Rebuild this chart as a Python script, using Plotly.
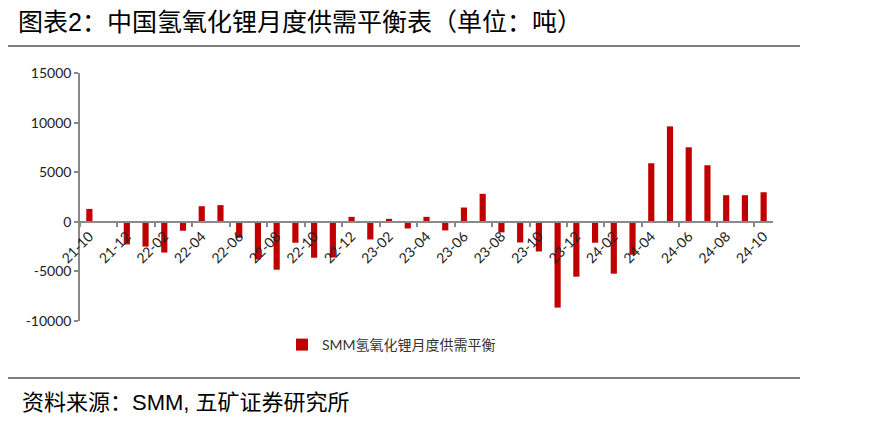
import plotly.graph_objects as go

months = [
    "21-10", "21-11", "21-12", "22-01", "22-02", "22-03", "22-04", "22-05", "22-06",
    "22-07", "22-08", "22-09", "22-10", "22-11", "22-12", "23-01", "23-02", "23-03",
    "23-04", "23-05", "23-06", "23-07", "23-08", "23-09", "23-10", "23-11", "23-12",
    "24-01", "24-02", "24-03", "24-04", "24-05", "24-06", "24-07", "24-08", "24-09",
    "24-10",
]
balance = [
    1300, 0, -2280, -2500, -3100, -900, 1570, 1680, -1610,
    -3790, -4830, -2110, -3620, -3600, 500, -1780, 300, -670,
    500, -870, 1440, 2820, -1070, -2080, -2990, -8650, -5530,
    -2110, -5230, -3320, 5900, 9620, 7510, 5700, 2680, 2680,
    2980,
]
y_ticks = [-10000, -5000, 0, 5000, 10000, 15000]

idx = list(range(len(months)))
num_font = "Lato, Noto Sans CJK SC, sans-serif"
cjk_font = "Liberation Sans, Noto Sans CJK SC, sans-serif"
grey = "#898989"

# page body has an 8px margin, so the figure is drawn 8px in
OFF = 8
FW, FH = 884 - OFF, 428 - OFF

fig = go.Figure()
fig.add_trace(go.Bar(
    x=idx, y=balance, name="SMM氢氧化锂月度供需平衡",
    marker=dict(color="#C00000", line=dict(width=0)), width=0.33,
))

# plot area in screen pixels: x 80..773, y 73..321
L, R, T, B = 80 - OFF, 773 - OFF, 73 - OFF, 321 - OFF
W, H = R - L, B - T


def px(x):
    return (x - OFF - L) / W


def py(y):
    return (B - (y - OFF)) / H


fig.update_layout(
    width=FW, height=FH,
    margin=dict(l=L, r=FW - R, t=T, b=FH - B, autoexpand=False),
    paper_bgcolor="white", plot_bgcolor="white",
    showlegend=True,
    legend=dict(
        x=px(282), y=py(345), xanchor="left", yanchor="middle",
        orientation="h", font=dict(family=num_font, size=14, color="#333333"),
    ),
    xaxis=dict(
        range=[-0.5, len(months) - 0.5], automargin=False,
        tickmode="array", tickvals=idx[::2], ticktext=months[::2],
        tickangle=-45, ticks="", showgrid=False, zeroline=False,
        showline=True, linecolor=grey, linewidth=2,
        anchor="free", position=10000 / 25000,
        tickfont=dict(family=num_font, size=14, color="#222222"),
        minor=dict(tick0=1.5, dtick=2, ticks="outside", ticklen=4,
                   tickcolor=grey, tickwidth=1.5, showgrid=False),
    ),
    yaxis=dict(
        range=[-10000, 15000], automargin=False,
        tickmode="array", tickvals=y_ticks, ticktext=[str(v) for v in y_ticks],
        ticks="outside", ticklen=4, tickcolor=grey, tickwidth=1.5,
        showline=True, linecolor=grey, linewidth=1.5,
        showgrid=False, zeroline=False,
        tickfont=dict(family=num_font, size=14, color="#222222"),
    ),
    shapes=[
        dict(type="line", xref="paper", yref="paper",
             x0=px(OFF), x1=px(800), y0=py(46), y1=py(46),
             line=dict(color="black", width=1.2)),
        dict(type="line", xref="paper", yref="paper",
             x0=px(OFF), x1=px(800), y0=py(378), y1=py(378),
             line=dict(color="black", width=1.2)),
    ],
    annotations=[
        dict(text="图表2：中国氢氧化锂月度供需平衡表（单位：吨）",
             xref="paper", yref="paper", x=px(16), y=py(22),
             xanchor="left", yanchor="middle", showarrow=False,
             font=dict(family=cjk_font, size=25, color="black")),
        dict(text="资料来源：SMM, 五矿证券研究所",
             xref="paper", yref="paper", x=px(20), y=py(402),
             xanchor="left", yanchor="middle", showarrow=False,
             font=dict(family=cjk_font, size=22, color="black")),
    ],
)

fig.write_html("out.html")
